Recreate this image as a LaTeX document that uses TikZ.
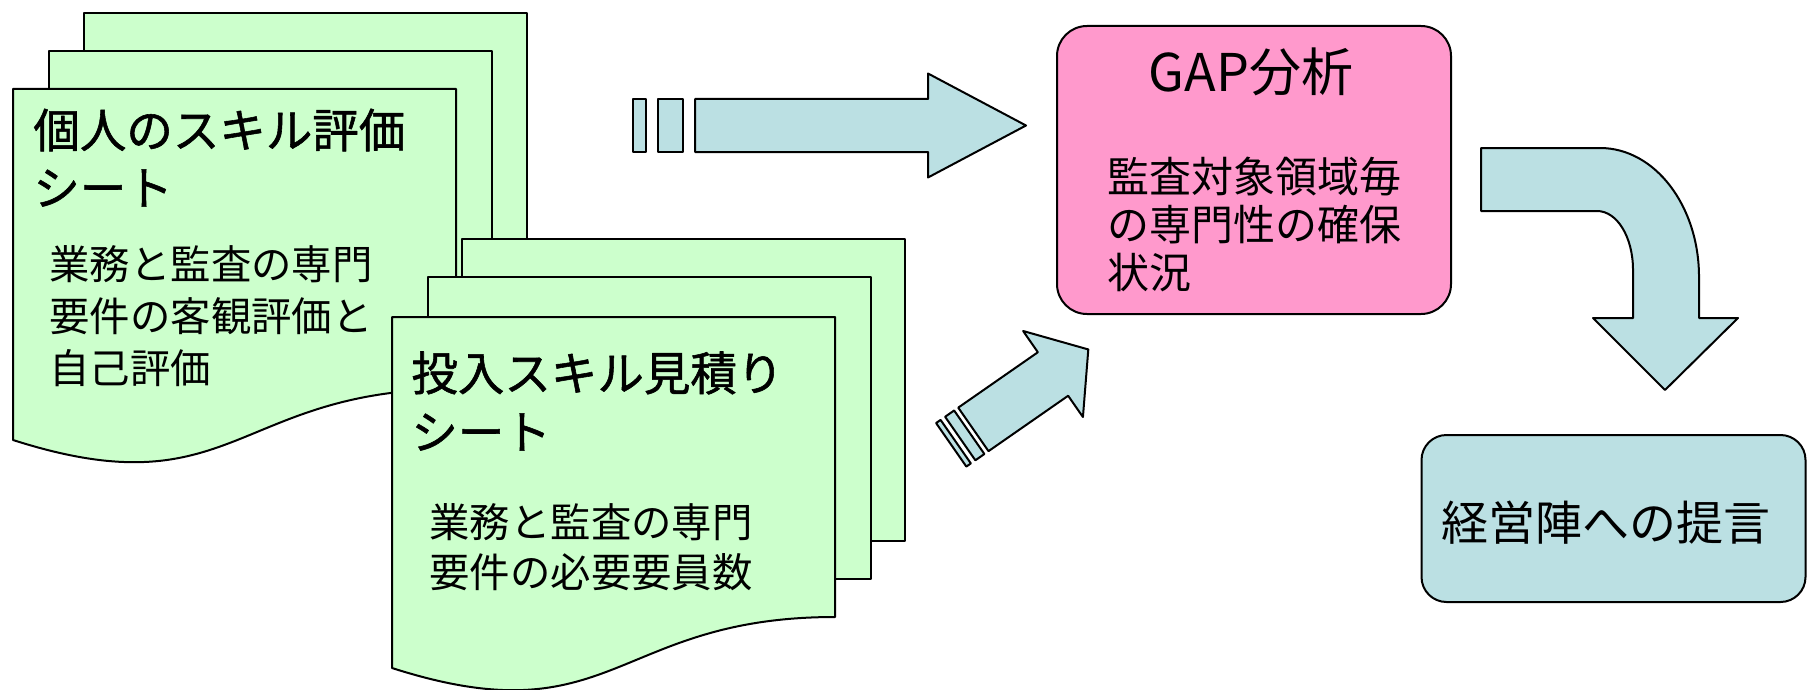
\documentclass[tikz,border=0pt]{standalone}
\usepackage{fontspec}
\newfontfamily\jp{Noto Sans CJK JP}
\newfontfamily\jpm{Noto Sans CJK JP}[FakeBold=1.2]
\definecolor{sheetgreen}{HTML}{CCFFCC}
\definecolor{arrowblue}{HTML}{BBE0E3}
\definecolor{gappink}{HTML}{FF99CC}
\newcommand\backsheet[2]{\path[sheetstyle] (#1,#2) rectangle (#1+443,#2+302);}
\newcommand\frontsheet[2]{\path[sheetstyle] (#1,#2) -- (#1+443,#2) -- (#1+443,#2+300)
  .. controls (#1+221.5,#2+300) and (#1+221.5,#2+422) .. (#1,#2+351) -- cycle;}
\begin{document}
\begin{tikzpicture}[x=0.5pt,y=-0.5pt,line join=round,
  outl/.style={draw=black,line width=1pt},
  sheetstyle/.style={outl,fill=sheetgreen},
  blockarrow/.style={outl,fill=arrowblue},
  titletxt/.style={inner sep=0pt,anchor=west,font=\jpm\fontsize{23.25pt}{28pt}\selectfont},
  bodytxt/.style={inner sep=0pt,anchor=west,font=\jp\fontsize{20.2pt}{24pt}\selectfont},
  gapbody/.style={inner sep=0pt,anchor=west,font=\jp\fontsize{21pt}{25pt}\selectfont}]
\useasboundingbox (0,0) rectangle (1808,690);

% --- stack A: personal skill evaluation sheet
\backsheet{84}{13}
\backsheet{49}{51}
\frontsheet{13}{89}
\node[titletxt] (a1) at (33,130) {個人のスキル評価};
\node[titletxt] (a2) at (33,188) {シート};
\node[bodytxt] (a3) at (49,264) {業務と監査の専門};
\node[bodytxt] (a4) at (49,316) {要件の客観評価と};
\node[bodytxt] (a5) at (49,368) {自己評価};

% --- stack B: input skill estimate sheet
\backsheet{462}{239}
\backsheet{428}{277}
\frontsheet{392}{317}
\node[titletxt] (b1) at (411,373) {投入スキル見積り};
\node[titletxt] (b2) at (411,432) {シート};
\node[bodytxt] (b3) at (429,522) {業務と監査の専門};
\node[bodytxt] (b4) at (429,572) {要件の必要要員数};

% --- striped horizontal arrow
\begin{scope}[shift={(928,125.5)}]
  \path[blockarrow] (-233,-26.5) -- (0,-26.5) -- (0,-52) -- (98,0) -- (0,52) -- (0,26.5) -- (-233,26.5) -- cycle;
  \path[blockarrow] (-270,-26.5) -- (-245,-26.5) -- (-245,26.5) -- (-270,26.5) -- cycle;
  \path[blockarrow] (-295,-26.5) -- (-282,-26.5) -- (-282,26.5) -- (-295,26.5) -- cycle;
\end{scope}

% --- striped diagonal arrow
\begin{scope}[shift={(1053,374)},x={(0.4105pt,0.2855pt)},y={(0.2855pt,-0.4105pt)}]
  \path[blockarrow] (-97,-26.5) -- (0,-26.5) -- (0,-52.4) -- (43,0) -- (0,52.4) -- (0,26.5) -- (-97,26.5) -- cycle;
  \path[blockarrow] (-113,-26.5) -- (-102,-26.5) -- (-102,26.5) -- (-113,26.5) -- cycle;
  \path[blockarrow] (-124,-26.5) -- (-118.5,-26.5) -- (-118.5,26.5) -- (-124,26.5) -- cycle;
\end{scope}

% --- GAP analysis box
\node[outl,fill=gappink,rounded corners=15pt,minimum width=197pt,minimum height=144pt,inner sep=0pt] (gap) at (1254,170) {};
\node[inner sep=0pt,font=\jp\fontsize{26pt}{30pt}\selectfont] (gapt) at (1251,72) {GAP分析};
\node[gapbody] (g1) at (1107,177) {監査対象領域毎};
\node[gapbody] (g2) at (1107,225) {の専門性の確保};
\node[gapbody] (g3) at (1107,273) {状況};

% --- curved arrow
\path[blockarrow] (1481,148) -- (1600,148) .. controls (1655,148) and (1699,206) .. (1699,277)
  -- (1699,318) -- (1738,318) -- (1665,390) -- (1593,318) -- (1633,318) -- (1633,270)
  .. controls (1633,237) and (1617,211) .. (1597,211) -- (1481,211) -- cycle;

% --- proposal box
\node[outl,fill=arrowblue,rounded corners=12.5pt,minimum width=192pt,minimum height=83.5pt,inner sep=0pt] (prop) at (1613.5,518.5) {};
\node[inner sep=0pt,font=\jp\fontsize{23.5pt}{28pt}\selectfont] (propt) at (1606,523) {経営陣への提言};
\end{tikzpicture}
\end{document}
